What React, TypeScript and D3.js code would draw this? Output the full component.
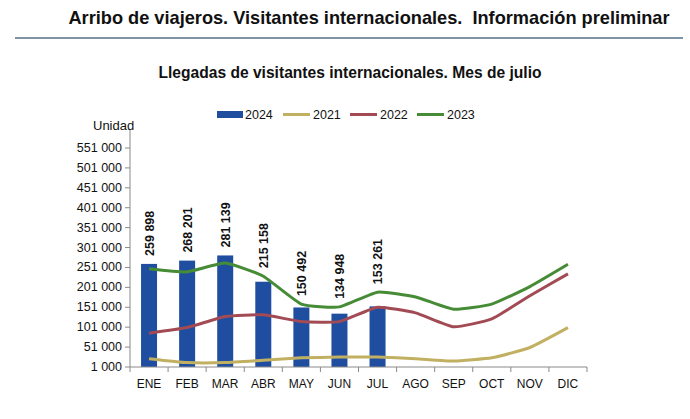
import React from "react";
import * as d3 from "d3";

const months = ["ENE", "FEB", "MAR", "ABR", "MAY", "JUN", "JUL", "AGO", "SEP", "OCT", "NOV", "DIC"];
const arrivals2024 = [259898, 268201, 281139, 215158, 150492, 134948, 153261];
const arrivals2021 = [22000, 12000, 12000, 18000, 24000, 26000, 26000, 22000, 16000, 24000, 50000, 100000];
const arrivals2022 = [86000, 100000, 128000, 132000, 115000, 115000, 151000, 137000, 102000, 122000, 180000, 235000];
const arrivals2023 = [248000, 240000, 262000, 229000, 159000, 152000, 189000, 177000, 146000, 159000, 203000, 259000];
const yTicks = [1000, 51000, 101000, 151000, 201000, 251000, 301000, 351000, 401000, 451000, 501000, 551000];

const fmt = (v: number) => d3.format(",")(v).replace(/,/g, " ");

const BLUE = "#1f4ea1";
const C2021 = "#c2b062";
const C2022 = "#a24b55";
const C2023 = "#468c36";
const AXIS = "#8a8a8a";
const FONT = "'Liberation Sans', Arial, sans-serif";

export default function App() {
  const width = 690;
  const height = 419;
  const left = 130;
  const right = 587;
  const bottom = 367;
  const axisTop = 130;

  const x = d3.scaleBand<string>().domain(months).range([left, right]).paddingInner(0).paddingOuter(0);
  const y = d3.scaleLinear().domain([1000, 551000]).range([bottom, 148]);
  const bw = 16;
  const cx = (m: string) => (x(m) as number) + x.bandwidth() / 2;

  const line = d3
    .line<number>()
    .x((_, i) => cx(months[i]))
    .y((v) => y(v))
    .curve(d3.curveCardinal.tension(0.55));

  const series = [
    { name: "2021", data: arrivals2021, color: C2021 },
    { name: "2022", data: arrivals2022, color: C2022 },
    { name: "2023", data: arrivals2023, color: C2023 },
  ];

  return (
    <svg width={width} height={height} style={{ position: "absolute", left: 0, top: 0, background: "#fff" }}>
      <text x={369} y={24} textAnchor="middle" fontFamily={FONT} fontWeight="bold" fontSize={18.2} fill="#111">
        Arribo de viajeros. Visitantes internacionales.{"\u00a0\u00a0"}Información preliminar
      </text>
      <line x1={15} x2={683} y1={38} y2={38} stroke="#7d93a6" strokeWidth={2} />
      <text x={350} y={78} textAnchor="middle" fontFamily={FONT} fontWeight="bold" fontSize={15.6} fill="#111">
        Llegadas de visitantes internacionales. Mes de julio
      </text>

      {/* legend */}
      <g fontFamily={FONT} fontSize={12.5} fill="#111">
        <rect x={217} y={111} width={26} height={7} fill={BLUE} />
        <text x={245} y={119}>2024</text>
        {series.map((s, i) => {
          const lx = 283 + i * 67;
          return (
            <g key={s.name}>
              <line x1={lx} x2={lx + 27} y1={114.5} y2={114.5} stroke={s.color} strokeWidth={3} />
              <text x={lx + 30} y={119}>{s.name}</text>
            </g>
          );
        })}
      </g>

      <text x={93} y={130} fontFamily={FONT} fontSize={13} fill="#111">Unidad</text>

      {/* y axis */}
      <line x1={left} x2={left} y1={axisTop} y2={bottom} stroke={AXIS} strokeWidth={1} />
      {yTicks.map((t) => (
        <g key={t}>
          <line x1={left - 5} x2={left} y1={y(t)} y2={y(t)} stroke={AXIS} />
          <text x={122} y={y(t) + 4} textAnchor="end" fontFamily={FONT} fontSize={12.5} fill="#111">
            {fmt(t)}
          </text>
        </g>
      ))}

      {/* bars */}
      {arrivals2024.map((v, i) => {
        const m = months[i];
        return (
          <rect key={m} x={cx(m) - bw / 2} y={y(v)} width={bw} height={bottom - y(v)} fill={BLUE} />
        );
      })}

      {/* lines */}
      {series.map((s) => (
        <path key={s.name} d={line(s.data) as string} fill="none" stroke={s.color} strokeWidth={3} />
      ))}

      {/* bar labels, lifted above the bar or the 2023 line, whichever is higher */}
      {arrivals2024.map((v, i) => {
        const m = months[i];
        const tx = cx(m) + 4.5;
        const ty = Math.min(y(v), y(arrivals2023[i])) - 8;
        return (
          <text
            key={m}
            transform={`translate(${tx},${ty}) rotate(-90)`}
            fontFamily={FONT}
            fontWeight="bold"
            fontSize={12.5}
            fill="#111"
          >
            {fmt(v)}
          </text>
        );
      })}

      {/* x axis */}
      <line x1={left} x2={right} y1={bottom} y2={bottom} stroke={AXIS} />
      {months.map((m) => (
        <line key={m} x1={x(m) as number} x2={x(m) as number} y1={bottom} y2={bottom + 5} stroke={AXIS} />
      ))}
      <line x1={right} x2={right} y1={bottom} y2={bottom + 5} stroke={AXIS} />
      {months.map((m) => (
        <text key={m} x={cx(m)} y={388} textAnchor="middle" fontFamily={FONT} fontSize={12} fill="#111">
          {m}
        </text>
      ))}
    </svg>
  );
}
